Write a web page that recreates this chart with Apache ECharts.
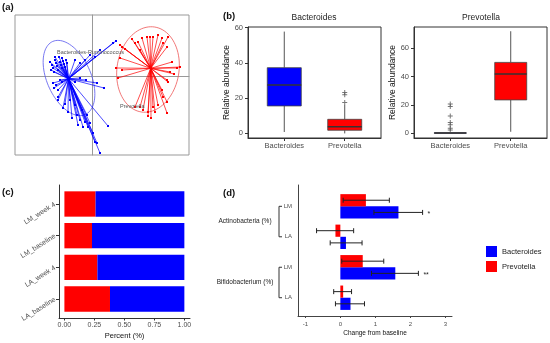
<!DOCTYPE html>
<html><head><meta charset="utf-8">
<script src="https://cdn.jsdelivr.net/npm/echarts@6/dist/echarts.min.js"></script>
<style>html,body{margin:0;padding:0;background:#fff}#c{width:550px;height:343px}</style>
</head><body><div id="c"></div><script>
// ================= DATA =================
// (a) PCA biplot – scores in plot units, origin at the crosshair
const bactCenter = [-23.5, -2.7];
const prevCenter = [58.7, 7.7];
const bactX = [-42,-40,-39,-37,-36,-35,-34,-32,-31,-30,-29,-28,-27,-41,-38,-33,-30,-26,-25,-37, 24,21,8,-2,-7,-12,3,-17, 12,5,-12,-6,-17, -39,-36,-32,-30,-34,-38, -34,-34,-27,-24,-20,-15,-12,-10,-9,-7,-5,-4,-2,1,3,5,8,16,-22,-17,-29,-14];
const bactY = [14,11,8,16,13,10,6,14,11,8,15,12,9,6,4,19,18,16,13,19, 35,33,26,21,16,13,19,16, -12,-7,-2,-4,-6, -7,-9,-4,-6,-14,-12, -21,-24,-28,-36,-42,-39,-44,-34,-51,-46,-39,-51,-47,-57,-66,-67,-77,-50,-24,-29,-32,-49];
const prevX = [28,30,33,40,43,46,50,55,58,61,66,70,76,71,75,80,78,85,75,76,70,71,75,66,61,59,51,48,30,26,28,48,24,88,82,75,63,56,43,56];
const prevY = [31,29,27,37,33,34,38,39,39,39,41,38,39,33,29,14,4,8,-4,-6,-14,-21,-26,-29,-31,-42,-34,-31,6,-2,18,26,8,9,2,-37,-36,-40,-31,-36];
// ellipse: [cx, cy, semi-major, semi-minor, angle deg]
const bactEllipse = [-23, -2, 40, 22, -66];
const prevEllipse = [56, 6.5, 43, 31, 81];
const biplotLabels = ['Bacteroides-Ruminococcus', 'Prevotella'];
const biplotLabelX = [-35, 28];
const biplotLabelY = [24, -30];

// (b) boxplots: [min, Q1, median, Q3, max]
const boxCats = ['Bacteroides', 'Prevotella'];
const bactPanelStats = [[0.8, 15.6, 27.5, 37.3, 57.8], [0, 1.8, 3.8, 8.0, 16.2]];
const bactPanelOutCat = [2, 2, 2];
const bactPanelOutVal = [17.5, 21.9, 23.2];
const prevPanelStats = [[0, 0, 0.05, 0.3, 0.7], [1, 23.5, 41.8, 50, 72]];
const prevPanelOutCat = [1, 1, 1, 1, 1, 1, 1];
const prevPanelOutVal = [2.3, 3.5, 5.9, 7.5, 12.2, 18.8, 20.6];
const bactTicks = [0, 20, 40, 60];
const prevTicks = [0, 20, 40, 60];

// (c) composition
const compCats = ['LM_week 4', 'LM_baseline', 'LA_week 4', 'LA_baseline'];
const compPrev = [0.26, 0.23, 0.275, 0.38];
const compBact = [0.74, 0.77, 0.725, 0.62];
const compTicks = [0, 0.25, 0.5, 0.75, 1];

// (d) change from baseline
const chgCats = ['LM', 'LA', 'LM', 'LA'];
const chgGroups = ['Actinobacteria (%)', 'Bifidobacterium (%)'];
const chgGroupStart = [1, 3];
const chgGroupEnd = [2, 4];
const chgPrev = [0.73, -0.14, 0.64, 0.08];
const chgPrevLo = [0.08, -0.68, 0.04, -0.19];
const chgPrevHi = [1.40, 0.38, 1.24, 0.32];
const chgBact = [1.66, 0.16, 1.57, 0.29];
const chgBactLo = [0.96, -0.29, 0.89, -0.14];
const chgBactHi = [2.35, 0.62, 2.23, 0.69];
const chgBactSig = ['*', '', '**', ''];
const chgTicks = [-1, 0, 1, 2, 3];

// ================= STYLE =================
const BLUE = '#0000ff', RED = '#ff0000';
const FF = 'Liberation Sans, Arial, Helvetica, sans-serif';
const TXT = '#4d4d4d';
const PLUS = 'path://M4,0H6V4H10V6H6V10H4V6H0V4H4Z';

function spokes(center, color) {
  return function (params, api) {
    const c = api.coord(center);
    const p = api.coord([api.value(0), api.value(1)]);
    return { type: 'group', children: [
      { type: 'line', shape: { x1: c[0], y1: c[1], x2: p[0], y2: p[1] }, style: { stroke: color, lineWidth: 0.7 } },
      { type: 'rect', shape: { x: p[0] - 1, y: p[1] - 1, width: 2, height: 2 }, style: { fill: color } }
    ] };
  };
}
const ellColors = ['#5555ee', '#ee5555'];
function ellipseItem(params, api) {
  const e = [bactEllipse, prevEllipse][params.dataIndex];
  const th = e[4] * Math.PI / 180, pts = [];
  for (let k = 0; k <= 90; k++) {
    const t = k / 90 * 2 * Math.PI;
    const ux = e[0] + e[2] * Math.cos(th) * Math.cos(t) - e[3] * Math.sin(th) * Math.sin(t);
    const uy = e[1] + e[2] * Math.sin(th) * Math.cos(t) + e[3] * Math.cos(th) * Math.sin(t);
    pts.push(api.coord([ux, uy]));
  }
  return { type: 'polyline', shape: { points: pts }, style: { stroke: ellColors[params.dataIndex], fill: null, lineWidth: 0.8 } };
}
function labelItem(params, api) {
  const p = api.coord([api.value(0), api.value(1)]);
  return { type: 'text', x: p[0], y: p[1], style: { text: biplotLabels[params.dataIndex], fill: '#555', fontSize: 5.5, fontFamily: FF, align: 'left', verticalAlign: 'middle', textAlign: 'left', textVerticalAlign: 'middle' } };
}
function boxItem(half) {
  const colors = [BLUE, RED];
  return function (params, api) {
    const x = api.value(0);
    const c = v => api.coord([x, v]);
    const pMn = c(api.value(1)), pQ1 = c(api.value(2)), pMd = c(api.value(3)), pQ3 = c(api.value(4)), pMx = c(api.value(5));
    const cx = pMd[0];
    return { type: 'group', children: [
      { type: 'line', shape: { x1: cx, y1: pMx[1], x2: cx, y2: pQ3[1] }, style: { stroke: '#555', lineWidth: 1 } },
      { type: 'line', shape: { x1: cx, y1: pQ1[1], x2: cx, y2: pMn[1] }, style: { stroke: '#555', lineWidth: 1 } },
      { type: 'rect', shape: { x: cx - half, y: pQ3[1], width: 2 * half, height: Math.max(pQ1[1] - pQ3[1], 0.5) }, style: { fill: colors[params.dataIndex], stroke: '#444', lineWidth: 0.8 } },
      { type: 'line', shape: { x1: cx - half, y1: pMd[1], x2: cx + half, y2: pMd[1] }, style: { stroke: '#333', lineWidth: 1.5 } }
    ] };
  };
}
function compItem(params, api) {
  const y = api.value(0), a = api.value(1), b = api.value(2);
  const p0 = api.coord([0, y - 0.4]), p1 = api.coord([a, y + 0.4]), p2 = api.coord([a + b, y + 0.4]);
  return { type: 'group', children: [
    { type: 'rect', shape: { x: p0[0], y: p0[1], width: p1[0] - p0[0], height: p1[1] - p0[1] }, style: { fill: RED } },
    { type: 'rect', shape: { x: p1[0], y: p0[1], width: p2[0] - p1[0], height: p1[1] - p0[1] }, style: { fill: BLUE } }
  ] };
}
function chgItem(offset, color, sig) {
  return function (params, api) {
    const y = api.value(0) + offset, v = api.value(1), lo = api.value(2), hi = api.value(3);
    const a = api.coord([0, y - 0.2]), b = api.coord([v, y + 0.2]);
    const l = api.coord([lo, y]), h = api.coord([hi, y]);
    const ch = [
      { type: 'rect', shape: { x: Math.min(a[0], b[0]), y: a[1], width: Math.abs(b[0] - a[0]), height: b[1] - a[1] }, style: { fill: color } },
      { type: 'line', shape: { x1: l[0], y1: l[1], x2: h[0], y2: h[1] }, style: { stroke: '#222', lineWidth: 1 } },
      { type: 'line', shape: { x1: l[0], y1: l[1] - 2.5, x2: l[0], y2: l[1] + 2.5 }, style: { stroke: '#222', lineWidth: 1 } },
      { type: 'line', shape: { x1: h[0], y1: h[1] - 2.5, x2: h[0], y2: h[1] + 2.5 }, style: { stroke: '#222', lineWidth: 1 } }
    ];
    if (sig && sig[params.dataIndex]) {
      ch.push({ type: 'text', x: h[0] + 5, y: h[1] + 1.5, style: { text: sig[params.dataIndex], fill: '#222', fontSize: 7, fontFamily: FF, align: 'left', verticalAlign: 'middle', textAlign: 'left', textVerticalAlign: 'middle' } });
    }
    return { type: 'group', children: ch };
  };
}
function bracketItem(params, api) {
  const cs = params.coordSys;
  const x0 = cs.x;
  const y1 = api.coord([0, api.value(0)])[1], y2 = api.coord([0, api.value(1)])[1];
  const bx = x0 - 19;
  return { type: 'group', children: [
    { type: 'line', shape: { x1: bx, y1: y1, x2: bx, y2: y2 }, style: { stroke: '#333', lineWidth: 1 } },
    { type: 'line', shape: { x1: bx, y1: y1, x2: bx + 3, y2: y1 }, style: { stroke: '#333', lineWidth: 1 } },
    { type: 'line', shape: { x1: bx, y1: y2, x2: bx + 3, y2: y2 }, style: { stroke: '#333', lineWidth: 1 } },
    { type: 'text', x: x0 - 53, y: (y1 + y2) / 2, style: { text: chgGroups[params.dataIndex], fill: '#222', fontSize: 6.5, fontFamily: FF, align: 'center', verticalAlign: 'middle', textAlign: 'center', textVerticalAlign: 'middle' } }
  ] };
}

function hidden(grid, min, max) {
  return { gridIndex: grid, type: 'value', min: min, max: max,
    axisLine: { onZero: true, lineStyle: { color: '#999', width: 1 } },
    axisTick: { show: false }, axisLabel: { show: false }, splitLine: { show: false } };
}
function boxX(grid) {
  return { gridIndex: grid, type: 'value', min: 0.4, max: 2.6,
    axisLine: { onZero: false, lineStyle: { color: '#333' } },
    axisTick: { customValues: [1, 2], length: 3, lineStyle: { color: '#333' } },
    axisLabel: { customValues: [1, 2], formatter: v => boxCats[Math.round(v) - 1], color: TXT, fontSize: 7.5, fontFamily: FF, margin: 4 },
    splitLine: { show: false } };
}
function boxY(grid, min, max, ticks) {
  return { gridIndex: grid, type: 'value', min: min, max: max,
    axisLine: { onZero: false, lineStyle: { color: '#333' } },
    axisTick: { customValues: ticks, length: 3, lineStyle: { color: '#333' } },
    axisLabel: { customValues: ticks, color: TXT, fontSize: 7.5, fontFamily: FF, margin: 5 },
    splitLine: { show: false },
    name: 'Relative abundance', nameLocation: 'middle', nameGap: 15,
    nameTextStyle: { fontSize: 8.5, color: '#111', fontFamily: FF } };
}

const option = {
  animation: false,
  backgroundColor: '#fff',
  textStyle: { fontFamily: FF },
  grid: [
    { left: 15, top: 15, width: 174, height: 140, show: true, borderColor: '#999', borderWidth: 1 },
    { left: 248, top: 27, width: 133, height: 111, show: true, borderColor: '#333', borderWidth: 1 },
    { left: 414, top: 27, width: 133, height: 111, show: true, borderColor: '#333', borderWidth: 1 },
    { left: 59, top: 185, width: 131, height: 133 },
    { left: 298, top: 185, width: 154, height: 131 }
  ],
  xAxis: [
    hidden(0, -77, 97),
    boxX(1), boxX(2),
    { gridIndex: 3, type: 'value', min: -0.045, max: 1.047,
      axisLine: { onZero: false, lineStyle: { color: '#333' } },
      axisTick: { customValues: compTicks, length: 2.5, lineStyle: { color: '#333' } },
      axisLabel: { customValues: compTicks, formatter: v => v.toFixed(2), color: TXT, fontSize: 7, fontFamily: FF, margin: 4 },
      splitLine: { show: false },
      name: 'Percent (%)', nameLocation: 'middle', nameGap: 14, nameTextStyle: { fontSize: 7.5, color: '#111', fontFamily: FF } },
    { gridIndex: 4, type: 'value', min: -1.21, max: 3.19,
      axisLine: { onZero: false, lineStyle: { color: '#444' } },
      axisTick: { customValues: chgTicks, length: 2, lineStyle: { color: '#444' } },
      axisLabel: { customValues: chgTicks, color: TXT, fontSize: 6, fontFamily: FF, margin: 5 },
      splitLine: { show: false },
      name: 'Change from baseline', nameLocation: 'middle', nameGap: 14, nameTextStyle: { fontSize: 6.5, color: '#111', fontFamily: FF } }
  ],
  yAxis: [
    hidden(0, -79, 61),
    boxY(1, -2.6, 60.4, bactTicks),
    boxY(2, -3.4, 75, prevTicks),
    { gridIndex: 3, type: 'value', min: 0.4, max: 4.6, inverse: true,
      axisLine: { onZero: false, lineStyle: { color: '#333' } },
      axisTick: { customValues: [1, 2, 3, 4], length: 3, lineStyle: { color: '#333' } },
      axisLabel: { customValues: [1, 2, 3, 4], formatter: v => compCats[Math.round(v) - 1], rotate: 32, color: TXT, fontSize: 7, fontFamily: FF, margin: 4 },
      splitLine: { show: false } },
    { gridIndex: 4, type: 'value', min: 0.3, max: 4.6, inverse: true,
      axisLine: { onZero: false, lineStyle: { color: '#444' } },
      axisTick: { show: false },
      axisLabel: { customValues: [1, 2, 3, 4], formatter: v => chgCats[Math.round(v) - 1], color: TXT, fontSize: 6, fontFamily: FF, margin: 6 },
      splitLine: { show: false } }
  ],
  legend: {
    orient: 'vertical', left: 486, top: 246, padding: 0, itemGap: 4,
    itemWidth: 11, itemHeight: 11, icon: 'rect', selectedMode: false,
    data: ['Bacteroides', 'Prevotella'],
    textStyle: { fontSize: 7.5, color: '#222', fontFamily: FF }
  },
  graphic: [
    { type: 'text', x: 2, y: 7, style: { text: '(a)', fontSize: 9.5, fontWeight: 'bold', fill: '#111', fontFamily: FF, verticalAlign: 'middle', textVerticalAlign: 'middle' } },
    { type: 'text', x: 223, y: 16, style: { text: '(b)', fontSize: 9.5, fontWeight: 'bold', fill: '#111', fontFamily: FF, verticalAlign: 'middle', textVerticalAlign: 'middle' } },
    { type: 'text', x: 2, y: 192, style: { text: '(c)', fontSize: 9.5, fontWeight: 'bold', fill: '#111', fontFamily: FF, verticalAlign: 'middle', textVerticalAlign: 'middle' } },
    { type: 'text', x: 223, y: 193, style: { text: '(d)', fontSize: 9.5, fontWeight: 'bold', fill: '#111', fontFamily: FF, verticalAlign: 'middle', textVerticalAlign: 'middle' } },
    { type: 'text', x: 314, y: 18, style: { text: 'Bacteroides', fontSize: 8.5, fill: '#222', fontFamily: FF, align: 'center', textAlign: 'center', verticalAlign: 'middle', textVerticalAlign: 'middle' } },
    { type: 'text', x: 481, y: 18, style: { text: 'Prevotella', fontSize: 8.5, fill: '#222', fontFamily: FF, align: 'center', textAlign: 'center', verticalAlign: 'middle', textVerticalAlign: 'middle' } }
  ],
  series: [
    { type: 'custom', xAxisIndex: 0, yAxisIndex: 0, silent: true, data: [bactEllipse, prevEllipse], renderItem: ellipseItem },
    { type: 'custom', xAxisIndex: 0, yAxisIndex: 0, silent: true, data: bactX.map((x, i) => [x, bactY[i]]), renderItem: spokes(bactCenter, BLUE) },
    { type: 'custom', xAxisIndex: 0, yAxisIndex: 0, silent: true, data: prevX.map((x, i) => [x, prevY[i]]), renderItem: spokes(prevCenter, RED) },
    { type: 'custom', xAxisIndex: 0, yAxisIndex: 0, silent: true, data: biplotLabelX.map((x, i) => [x, biplotLabelY[i]]), renderItem: labelItem },

    { type: 'custom', xAxisIndex: 1, yAxisIndex: 1, silent: true, data: bactPanelStats.map((s, i) => [i + 1].concat(s)), renderItem: boxItem(17) },
    { type: 'scatter', xAxisIndex: 1, yAxisIndex: 1, silent: true, symbol: PLUS, symbolSize: 5, itemStyle: { color: '#555' }, data: bactPanelOutCat.map((c, i) => [c, bactPanelOutVal[i]]) },
    { type: 'custom', xAxisIndex: 2, yAxisIndex: 2, silent: true, data: prevPanelStats.map((s, i) => [i + 1].concat(s)), renderItem: boxItem(16) },
    { type: 'scatter', xAxisIndex: 2, yAxisIndex: 2, silent: true, symbol: PLUS, symbolSize: 5, itemStyle: { color: '#555' }, data: prevPanelOutCat.map((c, i) => [c, prevPanelOutVal[i]]) },

    { type: 'custom', xAxisIndex: 3, yAxisIndex: 3, silent: true, data: compCats.map((c, i) => [i + 1, compPrev[i], compBact[i]]), renderItem: compItem },

    { type: 'custom', name: 'Bacteroides', xAxisIndex: 4, yAxisIndex: 4, silent: true, itemStyle: { color: BLUE },
      data: chgCats.map((c, i) => [i + 1, chgBact[i], chgBactLo[i], chgBactHi[i]]), renderItem: chgItem(0.2, BLUE, chgBactSig) },
    { type: 'custom', name: 'Prevotella', xAxisIndex: 4, yAxisIndex: 4, silent: true, itemStyle: { color: RED },
      data: chgCats.map((c, i) => [i + 1, chgPrev[i], chgPrevLo[i], chgPrevHi[i]]), renderItem: chgItem(-0.2, RED, null) },
    { type: 'custom', xAxisIndex: 4, yAxisIndex: 4, silent: true, clip: false,
      data: chgGroups.map((g, i) => [chgGroupStart[i], chgGroupEnd[i]]), renderItem: bracketItem }
  ]
};
const chart = echarts.init(document.getElementById('c'));
chart.setOption(option);
</script></body></html>
